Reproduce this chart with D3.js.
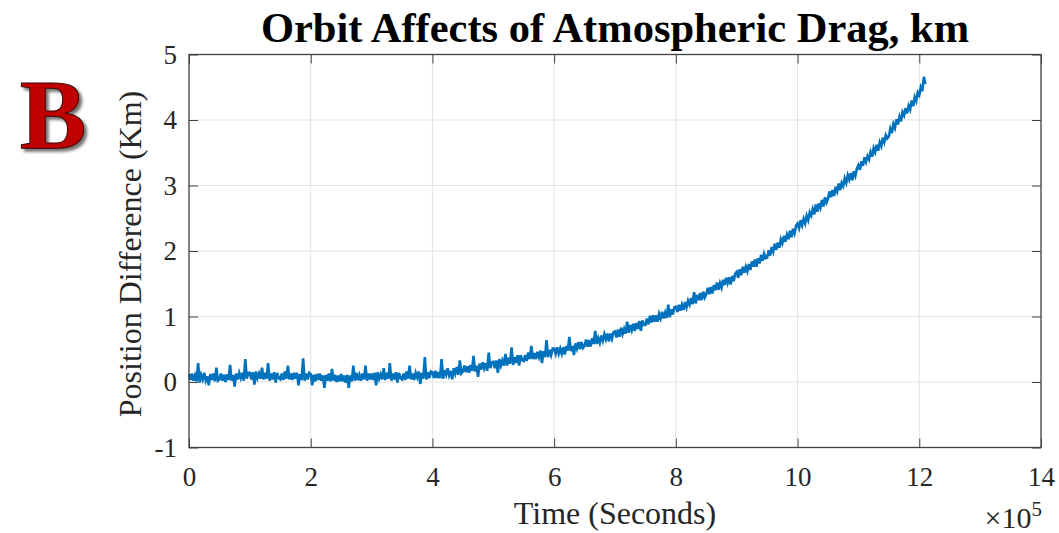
<!DOCTYPE html>
<html>
<head>
<meta charset="utf-8">
<script src="https://cdn.jsdelivr.net/npm/d3@7"></script>
<style>
  html, body { margin: 0; padding: 0; background: #fff; }
  svg { display: block; }
</style>
</head>
<body>
<svg id="chart" width="1059" height="533"></svg>
<script>
// ---- data ----------------------------------------------------------------
const chartTitle = "Orbit Affects of Atmospheric Drag, km";
const xLabel = "Time (Seconds)";
const yLabel = "Position Difference (Km)";
const panelLetter = "B";

const xTicks = [0, 2, 4, 6, 8, 10, 12, 14];        // ×10^5 s
const yTicks = [-1, 0, 1, 2, 3, 4, 5];             // km
const xExponent = 5;

// samples every 2500 s, starting at t = 0
const sampleStart = 0;
const sampleStep = 2500;

// position difference, km
const positionDiff = [
  0.12, 0.03, 0.13, 0.02, 0.10, 0.01, 0.29, -0.01, 0.11, 0.04, 0.14, 0.02, 0.09, -0.05, 0.12, 0.03, 0.13, 0.01, 0.22, 0.02,
  0.04, 0.13, 0.02, 0.11, 0.00, 0.12, 0.03, 0.26, 0.02, 0.11, -0.07, 0.13, 0.04, 0.14, 0.06, 0.14, 0.02, 0.35, 0.05, 0.14,
  0.14, 0.04, 0.15, -0.04, 0.16, 0.06, 0.13, 0.05, 0.22, 0.04, 0.14, 0.05, 0.29, 0.02, 0.13, 0.04, 0.15, -0.01, 0.14, 0.06,
  0.04, 0.13, 0.03, 0.16, 0.05, 0.25, 0.04, 0.13, 0.03, 0.14, 0.05, 0.14, -0.05, 0.12, 0.03, 0.36, 0.02, 0.13, 0.04, 0.14,
  0.12, -0.05, 0.11, 0.01, 0.12, 0.03, 0.13, 0.02, 0.10, -0.09, 0.11, 0.02, 0.13, 0.01, 0.20, 0.02, 0.11, 0.00, 0.10, 0.01,
  0.12, 0.01, 0.10, -0.01, 0.11, -0.09, 0.10, 0.01, 0.25, 0.02, 0.14, 0.03, 0.11, 0.02, 0.13, 0.04, 0.25, 0.02, 0.13, 0.04,
  0.13, 0.03, 0.14, -0.05, 0.15, 0.05, 0.12, 0.04, 0.21, 0.03, 0.14, 0.05, 0.29, 0.02, 0.13, 0.04, 0.15, -0.01, 0.14, 0.06,
  0.04, 0.13, 0.03, 0.16, 0.05, 0.25, 0.04, 0.13, 0.03, 0.14, 0.07, 0.16, -0.03, 0.14, 0.05, 0.38, 0.04, 0.15, 0.06, 0.16,
  0.15, 0.06, 0.17, 0.06, 0.15, 0.06, 0.35, 0.05, 0.18, 0.11, 0.21, 0.10, 0.17, 0.04, 0.21, 0.13, 0.23, 0.11, 0.33, 0.13,
  0.16, 0.25, 0.15, 0.24, 0.14, 0.26, 0.17, 0.40, 0.16, 0.25, 0.08, 0.28, 0.19, 0.30, 0.21, 0.29, 0.17, 0.45, 0.21, 0.30,
  0.31, 0.21, 0.33, 0.14, 0.35, 0.25, 0.33, 0.25, 0.43, 0.25, 0.37, 0.28, 0.53, 0.26, 0.38, 0.29, 0.41, 0.25, 0.41, 0.33,
  0.32, 0.41, 0.32, 0.45, 0.35, 0.55, 0.35, 0.44, 0.35, 0.46, 0.38, 0.48, 0.29, 0.47, 0.38, 0.64, 0.38, 0.49, 0.41, 0.51,
  0.51, 0.43, 0.53, 0.43, 0.51, 0.43, 0.53, 0.42, 0.55, 0.48, 0.69, 0.47, 0.55, 0.41, 0.59, 0.51, 0.61, 0.50, 0.61, 0.52,
  0.55, 0.65, 0.54, 0.64, 0.54, 0.67, 0.58, 0.78, 0.58, 0.67, 0.60, 0.71, 0.63, 0.73, 0.65, 0.74, 0.62, 0.74, 0.66, 0.76,
  0.77, 0.68, 0.80, 0.69, 0.83, 0.73, 0.81, 0.74, 0.92, 0.75, 0.87, 0.79, 0.89, 0.78, 0.90, 0.81, 0.93, 0.78, 0.94, 0.87,
  0.87, 0.97, 0.88, 1.01, 0.91, 1.02, 0.92, 1.02, 0.92, 1.04, 0.97, 1.07, 0.97, 1.06, 0.98, 1.18, 0.99, 1.11, 1.03, 1.14,
  1.15, 1.07, 1.18, 1.09, 1.18, 1.10, 1.22, 1.14, 1.24, 1.18, 1.28, 1.19, 1.37, 1.20, 1.33, 1.25, 1.36, 1.25, 1.38, 1.29,
  1.34, 1.44, 1.34, 1.45, 1.35, 1.48, 1.40, 1.52, 1.41, 1.51, 1.44, 1.56, 1.48, 1.59, 1.51, 1.60, 1.49, 1.62, 1.54, 1.65,
  1.68, 1.59, 1.72, 1.63, 1.76, 1.67, 1.76, 1.69, 1.80, 1.71, 1.84, 1.76, 1.87, 1.76, 1.89, 1.81, 1.94, 1.85, 1.96, 1.89,
  1.90, 2.01, 1.93, 2.06, 1.99, 2.11, 2.02, 2.13, 2.05, 2.18, 2.12, 2.23, 2.14, 2.25, 2.18, 2.31, 2.21, 2.34, 2.27, 2.39,
  2.42, 2.35, 2.47, 2.39, 2.49, 2.42, 2.54, 2.47, 2.59, 2.54, 2.64, 2.56, 2.71, 2.60, 2.73, 2.66, 2.78, 2.68, 2.82, 2.74,
  2.80, 2.91, 2.82, 2.93, 2.84, 2.98, 2.91, 3.03, 2.93, 3.04, 2.99, 3.11, 3.04, 3.16, 3.09, 3.19, 3.08, 3.22, 3.15, 3.26,
  3.31, 3.24, 3.37, 3.30, 3.43, 3.36, 3.45, 3.40, 3.51, 3.44, 3.57, 3.51, 3.62, 3.53, 3.66, 3.60, 3.73, 3.66, 3.77, 3.72,
  3.75, 3.87, 3.80, 3.94, 3.88, 4.01, 3.93, 4.05, 3.98, 4.12, 4.07, 4.18, 4.10, 4.22, 4.16, 4.30, 4.21, 4.35, 4.29, 4.42,
  4.38, 4.50, 4.44, 4.66, 4.55
];

// ---- layout ----------------------------------------------------------------
const svg = d3.select("#chart");
const plot = { left: 189, right: 1041, top: 54.5, bottom: 447.5 };
const serif = "'Liberation Serif', 'Times New Roman', serif";
const axisColor = "#404040";
const textColor = "#262626";
const gridColor = "#e3e3e3";
const lineColor = "#0072BD";
const tickLen = 9;

const x = d3.scaleLinear().domain([0, 14e5]).range([plot.left, plot.right]);
const y = d3.scaleLinear().domain([-1, 5]).range([plot.bottom, plot.top]);

const series = positionDiff.map((v, i) => ({ t: sampleStart + i * sampleStep, v }));

// grid
const grid = svg.append("g");
grid.selectAll("line.gx").data(xTicks.slice(1, -1)).join("line")
  .attr("x1", d => x(d * 1e5)).attr("x2", d => x(d * 1e5))
  .attr("y1", plot.top).attr("y2", plot.bottom)
  .attr("stroke", gridColor).attr("stroke-width", 1);
grid.selectAll("line.gy").data(yTicks.slice(1, -1)).join("line")
  .attr("x1", plot.left).attr("x2", plot.right)
  .attr("y1", d => y(d)).attr("y2", d => y(d))
  .attr("stroke", gridColor).attr("stroke-width", 1);

// data line
svg.append("path")
  .datum(series)
  .attr("fill", "none")
  .attr("stroke", lineColor)
  .attr("stroke-width", 2.6)
  .attr("stroke-linejoin", "miter")
  .attr("d", d3.line().x(d => x(d.t)).y(d => y(d.v)));

// axes with inward ticks on all four sides
function styleAxis(g) {
  g.select(".domain").remove();
  g.selectAll(".tick line").attr("stroke", axisColor).attr("stroke-width", 1);
  g.selectAll(".tick text").attr("font-family", serif).attr("font-size", 27).attr("fill", textColor);
}
const xTickVals = xTicks.map(d => d * 1e5);
svg.append("g").attr("transform", `translate(0,${plot.bottom})`)
  .call(d3.axisBottom(x).tickValues(xTickVals).tickFormat(d => d / 1e5).tickSizeInner(-tickLen).tickSizeOuter(0).tickPadding(19))
  .call(styleAxis);
svg.append("g").attr("transform", `translate(0,${plot.top})`)
  .call(d3.axisTop(x).tickValues(xTickVals).tickFormat("").tickSizeInner(-tickLen).tickSizeOuter(0))
  .call(styleAxis);
svg.append("g").attr("transform", `translate(${plot.left},0)`)
  .call(d3.axisLeft(y).tickValues(yTicks).tickFormat(d => String(d).replace("\u2212", "-")).tickSizeInner(-tickLen).tickSizeOuter(0).tickPadding(12))
  .call(styleAxis);
svg.append("g").attr("transform", `translate(${plot.right},0)`)
  .call(d3.axisRight(y).tickValues(yTicks).tickFormat("").tickSizeInner(-tickLen).tickSizeOuter(0))
  .call(styleAxis);

// box
svg.append("rect")
  .attr("x", plot.left).attr("y", plot.top)
  .attr("width", plot.right - plot.left).attr("height", plot.bottom - plot.top)
  .attr("fill", "none").attr("stroke", axisColor).attr("stroke-width", 1.3);

// title
svg.append("text")
  .attr("x", 615).attr("y", 42)
  .attr("text-anchor", "middle")
  .attr("font-family", serif).attr("font-weight", "bold").attr("font-size", 42.5)
  .attr("fill", "#000")
  .text(chartTitle);

// axis labels
svg.append("text")
  .attr("x", 615).attr("y", 524)
  .attr("text-anchor", "middle")
  .attr("font-family", serif).attr("font-size", 32).attr("fill", textColor)
  .text(xLabel);
svg.append("text")
  .attr("transform", `translate(141,254) rotate(-90)`)
  .attr("text-anchor", "middle")
  .attr("font-family", serif).attr("font-size", 32).attr("fill", textColor)
  .text(yLabel);

// exponent marker
const expo = svg.append("text")
  .attr("x", 1042).attr("y", 528)
  .attr("text-anchor", "end")
  .attr("font-family", serif).attr("font-size", 30).attr("fill", textColor);
expo.append("tspan").text("\u00d710");
expo.append("tspan").attr("dy", -12).attr("font-size", 21).text(xExponent);

// panel letter with drop shadow
const defs = svg.append("defs");
const f = defs.append("filter").attr("id", "shadow").attr("x", "-20%").attr("y", "-20%").attr("width", "150%").attr("height", "150%");
f.append("feDropShadow").attr("dx", 3).attr("dy", 3).attr("stdDeviation", 1.5).attr("flood-color", "#000").attr("flood-opacity", 0.55);
svg.append("text")
  .attr("x", 53).attr("y", 148)
  .attr("text-anchor", "middle")
  .attr("font-family", serif).attr("font-weight", "bold").attr("font-size", 100)
  .attr("fill", "#c00000").attr("stroke", "#3a0000").attr("stroke-width", 1)
  .attr("filter", "url(#shadow)")
  .text(panelLetter);
</script>
</body>
</html>
